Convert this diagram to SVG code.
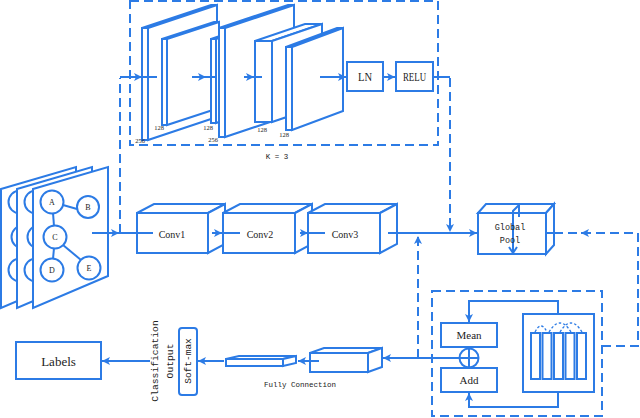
<svg xmlns="http://www.w3.org/2000/svg" width="640" height="418" viewBox="0 0 640 418">
<defs>
<style>
.s{fill:#fff;stroke:#2C7BE5;stroke-width:2;stroke-linejoin:miter}
.n{fill:none;stroke:#2C7BE5;stroke-width:2}
.d{fill:none;stroke:#2C7BE5;stroke-width:2;stroke-dasharray:9,5}
.dt{fill:none;stroke:#2C7BE5;stroke-width:1.3;stroke-dasharray:2.5,2}
.t{font-family:"Liberation Serif",serif;fill:#222;text-anchor:middle;dominant-baseline:central}
.m{font-family:"Liberation Mono",monospace;fill:#222;text-anchor:middle;dominant-baseline:central}
.num{font-family:"Liberation Serif",serif;font-size:6.5px;fill:#222;text-anchor:middle}
</style>
<marker id="ah" viewBox="0 0 10 10" refX="10" refY="5" markerWidth="10" markerHeight="8" markerUnits="userSpaceOnUse" orient="auto">
<path d="M0,0 L10,5 L0,10 L2.5,5 z" fill="#2C7BE5"/>
</marker>
</defs>
<rect width="640" height="418" fill="#fff"/>

<!-- top dashed block -->
<g id="block-k3">
<rect class="d" x="130" y="1" width="308" height="144"/>
<text class="m" x="277" y="157" font-size="7.5">K = 3</text>
</g>

<g id="slab1">
<polygon class="s" points="142,28 211,5 217,5 148,28"/>
<polygon class="s" points="148,28 217,5 217,117 148,140"/>
<rect class="s" x="142" y="28" width="6" height="112"/>
<text class="num" x="140" y="143">256</text>
</g>
<g id="slab2">
<polygon class="s" points="162,39 214,22 219,22 167,39"/>
<polygon class="s" points="167,39 219,22 219,108 167,125"/>
<rect class="s" x="162" y="39" width="5" height="86"/>
<text class="num" x="159" y="130">128</text>
</g>
<g id="slab3">
<polygon class="s" points="211,39 261,22 266,22 216,39"/>
<polygon class="s" points="216,39 266,22 266,106 216,123"/>
<rect class="s" x="211" y="39" width="5" height="84"/>
<text class="num" x="208" y="130">128</text>
</g>
<g id="slab4">
<polygon class="s" points="219,28 288,5 294,5 225,28"/>
<polygon class="s" points="225,28 294,5 294,114 225,137"/>
<rect class="s" x="219" y="28" width="6" height="109"/>
<text class="num" x="213" y="142">256</text>
</g>
<g id="slab5">
<polygon class="s" points="255,41 305,24 322,24 272,41"/>
<polygon class="s" points="272,41 322,24 322,105 272,122"/>
<rect class="s" x="255" y="41" width="17" height="81"/>
<text class="num" x="262" y="132">128</text>
</g>
<g id="slab6">
<polygon class="s" points="286,47 337,28 343,28 292,47"/>
<polygon class="s" points="292,47 343,28 343,111 292,130"/>
<rect class="s" x="286" y="47" width="6" height="83"/>
<text class="num" x="284" y="137">128</text>
</g>
<g id="ln">
<rect class="s" x="347" y="62" width="36" height="29"/>
<text class="t" x="365" y="77" font-size="12.5" textLength="14" lengthAdjust="spacingAndGlyphs">LN</text>
</g>
<g id="relu">
<rect class="s" x="396" y="62" width="37" height="29"/>
<text class="t" x="414.5" y="77" font-size="12.5" textLength="23" lengthAdjust="spacingAndGlyphs">RELU</text>
</g>

<!-- graph input panels -->
<g id="graph-input">
<polygon class="s" points="1,189 76,167 76,276 1,308"/>
<circle class="n" cx="20" cy="202" r="11.5"/>
<circle class="n" cx="23" cy="237" r="11.5"/>
<circle class="n" cx="20" cy="270" r="11.5"/>
<polygon class="s" points="17,189 92,167 92,276 17,308"/>
<circle class="n" cx="36" cy="202" r="11.5"/>
<circle class="n" cx="39" cy="237" r="11.5"/>
<circle class="n" cx="36" cy="270" r="11.5"/>
<polygon class="s" points="33,189 108,167 108,276 33,308"/>
<line class="n" x1="63" y1="205" x2="77" y2="209"/>
<line class="n" x1="53" y1="213" x2="54" y2="226"/>
<line class="n" x1="54" y1="248" x2="53" y2="259"/>
<line class="n" x1="63" y1="245" x2="81" y2="260"/>
<circle class="s" cx="52" cy="202" r="11.5"/>
<circle class="s" cx="88" cy="207" r="11"/>
<circle class="s" cx="55" cy="237" r="11.5"/>
<circle class="s" cx="52" cy="270" r="11.5"/>
<circle class="s" cx="89" cy="268" r="11.5"/>
<text class="t" x="52" y="202" font-size="8">A</text>
<text class="t" x="88" y="207" font-size="8">B</text>
<text class="t" x="55" y="237" font-size="8">C</text>
<text class="t" x="52" y="270" font-size="8">D</text>
<text class="t" x="89" y="268" font-size="8">E</text>
</g>

<g id="conv1">
<polygon class="s" points="137,213 154,204 225,204 208,213"/>
<polygon class="s" points="208,213 225,204 225,244 208,253"/>
<rect class="s" x="137" y="213" width="71" height="40"/>
<text class="t" x="172" y="234" font-size="10">Conv1</text>
</g>
<g id="conv2">
<polygon class="s" points="223,213 240,204 312,204 295,213"/>
<polygon class="s" points="295,213 312,204 312,244 295,253"/>
<rect class="s" x="223" y="213" width="72" height="40"/>
<text class="t" x="260" y="234" font-size="10">Conv2</text>
</g>
<g id="conv3">
<polygon class="s" points="308,213 325,204 397,204 380,213"/>
<polygon class="s" points="380,213 397,204 397,244 380,253"/>
<rect class="s" x="308" y="213" width="72" height="40"/>
<text class="t" x="345" y="234" font-size="10">Conv3</text>
</g>

<g id="global-pool">
<polygon class="s" points="478,213 486,204 554,204 546,213"/>
<polygon class="s" points="546,213 554,204 554,245 546,254"/>
<rect class="s" x="478" y="213" width="68" height="41"/>
<path class="n" d="M513,253 L513,211 L519,205 M519,205 L519,217"/>
<path class="n" d="M509,247 L513,253 L517,247"/>
<text class="m" x="510" y="228" font-size="8.5">Global</text>
<text class="m" x="510" y="241" font-size="8.5">Pool</text>
</g>

<!-- bottom-right dashed module -->
<g id="aggregation">
<rect class="d" x="432" y="291" width="170" height="125"/>
<rect class="s" x="441" y="323" width="56" height="24"/>
<text class="t" x="469" y="335" font-size="11">Mean</text>
<rect class="s" x="441" y="368" width="56" height="24"/>
<text class="t" x="469" y="380" font-size="11">Add</text>
<circle class="s" cx="469" cy="358" r="9.5"/>
<line class="n" x1="459.5" y1="358" x2="478.5" y2="358"/>
<line class="n" x1="469" y1="348.5" x2="469" y2="367.5"/>
<rect class="s" x="523" y="314" width="71" height="78"/>
<rect class="s" x="531" y="333" width="9" height="46"/>
<rect class="s" x="542.5" y="333" width="9" height="46"/>
<rect class="s" x="554" y="333" width="9" height="46"/>
<rect class="s" x="565.5" y="333" width="9" height="46"/>
<rect class="s" x="577" y="333" width="9" height="46"/>
<path class="dt" d="M535,332 Q541,320 547,332"/>
<path class="dt" d="M549,332 Q560,314 571,332"/>
<path class="dt" d="M560,332 Q571,314 582,332"/>
</g>

<g id="labels">
<rect class="s" x="16" y="342" width="85" height="37"/>
<text class="t" x="58.5" y="361" font-size="13">Labels</text>
</g>
<g id="classification-output">
<text class="m" transform="translate(155.5,361) rotate(-90)" font-size="9.7">Classification</text>
<text class="m" transform="translate(170.5,361) rotate(-90)" font-size="9.7">Output</text>
</g>
<g id="softmax">
<rect class="s" x="179" y="328" width="18" height="67" rx="3"/>
<text class="m" transform="translate(188.5,361) rotate(-90)" font-size="9.5">Soft-max</text>
</g>
<g id="fc1">
<polygon class="s" points="226,359 239,356 296,356 283,359"/>
<polygon class="s" points="283,359 296,356 296,363 283,366"/>
<rect class="s" x="226" y="359" width="57" height="7"/>
</g>
<g id="fc2">
<polygon class="s" points="310,353 324,348 382,348 368,353"/>
<polygon class="s" points="368,353 382,348 382,367 368,372"/>
<rect class="s" x="310" y="353" width="58" height="19"/>
<text class="m" x="300" y="385" font-size="7.5">Fully Connection</text>
</g>

<!-- connectors -->
<g id="connectors">
<line class="n" x1="120" y1="77" x2="142" y2="77" marker-end="url(#ah)"/>
<line class="n" x1="142" y1="77" x2="157" y2="77"/>
<line class="n" x1="192" y1="77" x2="206" y2="77" marker-end="url(#ah)"/>
<line class="n" x1="206" y1="77" x2="217" y2="77"/>
<line class="n" x1="244" y1="77" x2="254" y2="77" marker-end="url(#ah)"/>
<line class="n" x1="254" y1="77" x2="262" y2="77"/>
<line class="n" x1="320" y1="77" x2="346" y2="77" marker-end="url(#ah)"/>
<line class="n" x1="383" y1="77" x2="395" y2="77" marker-end="url(#ah)"/>
<line class="n" x1="433" y1="77" x2="450" y2="77"/>
<path class="d" d="M450,78 V232" marker-end="url(#ah)"/>
<path class="d" d="M120,233 V78"/>
<line class="n" x1="92" y1="233" x2="119" y2="233" marker-end="url(#ah)"/>
<line class="n" x1="119" y1="233" x2="153" y2="233"/>
<line class="n" x1="212" y1="233" x2="222" y2="233" marker-end="url(#ah)"/>
<line class="n" x1="222" y1="233" x2="240" y2="233"/>
<line class="n" x1="300" y1="233" x2="308" y2="233" marker-end="url(#ah)"/>
<line class="n" x1="308" y1="233" x2="325" y2="233"/>
<line class="n" x1="388" y1="233" x2="477" y2="233" marker-end="url(#ah)"/>
<line class="n" x1="546" y1="233" x2="556" y2="233"/>
<path class="d" d="M602,346 H638 V233 H556"/>
<line class="n" x1="590" y1="233" x2="581" y2="233" marker-end="url(#ah)"/>
<path class="d" d="M418,358 V236" marker-end="url(#ah)"/>
<line class="n" x1="459.5" y1="358" x2="383" y2="358" marker-end="url(#ah)"/>
<path class="n" d="M558,314 V301 H469 V322" marker-end="url(#ah)"/>
<path class="n" d="M558,392 V407 H469 V393" marker-end="url(#ah)"/>
<line class="n" x1="319" y1="361" x2="298" y2="361" marker-end="url(#ah)"/>
<line class="n" x1="224" y1="361" x2="198" y2="361" marker-end="url(#ah)"/>
<line class="n" x1="150" y1="361" x2="102" y2="361" marker-end="url(#ah)"/>
</g>
</svg>
